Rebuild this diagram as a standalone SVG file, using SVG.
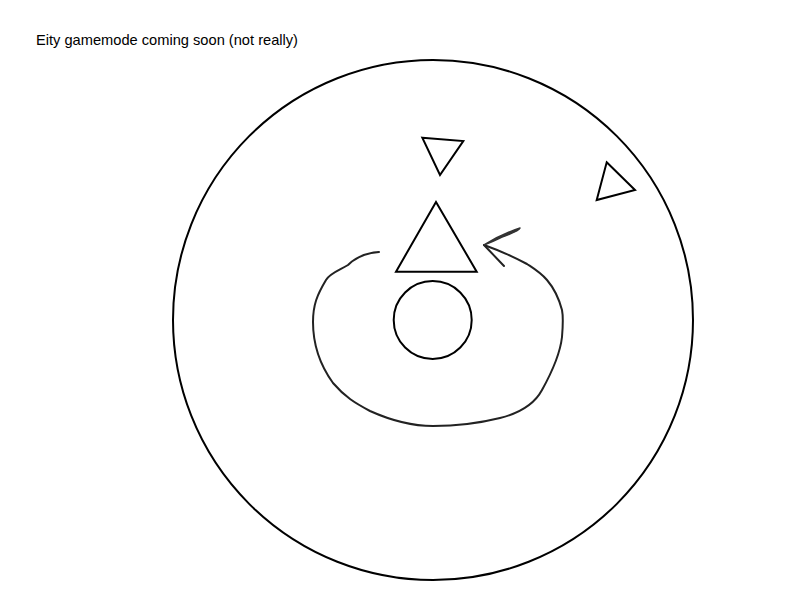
<svg xmlns="http://www.w3.org/2000/svg" width="800" height="600" viewBox="0 0 800 600">
<style>
.s{fill:none;stroke:#000;stroke-width:2;stroke-linejoin:miter}
.h{fill:none;stroke:#222;stroke-width:2;stroke-linecap:round;stroke-linejoin:round}
.t{font-family:"Liberation Sans",Arial,sans-serif;font-size:14.5px;fill:#000}
</style>
<rect width="800" height="600" fill="#fff"/>
<text class="t" x="36" y="45" textLength="262" lengthAdjust="spacingAndGlyphs">Eity gamemode coming soon (not really)</text>
<g id="arena"><circle class="s" cx="433" cy="320" r="260"/></g>
<g id="core"><circle class="s" cx="432.7" cy="320" r="39"/></g>
<g id="player"><polygon class="s" points="436,202 396,271.7 476.7,271.7"/></g>
<g id="enemy-top"><polygon class="s" points="422.3,137.7 463.3,141 440,175"/></g>
<g id="enemy-right"><polygon class="s" points="606.7,162.3 635,190 596.7,200"/></g>
<g id="connectors">
<path class="h" d="M379,252 C365,253 355,258 348,265 C340,270 330,273 326,280 C317,295 313,305 313,322 C313,345 320,365 333,383 C345,397 355,403 370,411 C390,420 410,426 433,426 C455,426 480,423 500,418 C520,413 535,403 542,390 C552,372 560,355 562,337 C563,325 563,315 562,310 C558,295 553,287 547,280 C540,272 533,268 527,264 C512,256 498,250 484,245"/>
<path class="h" d="M484,245 L504,266"/>
<path d="M484,245 C495,238 508,232 520,228 C519,231 510,234 500,238 C494,241 489,243 484,245 Z" fill="#333" stroke="#333" stroke-width="1.5" stroke-linejoin="round"/>
</g>
</svg>
